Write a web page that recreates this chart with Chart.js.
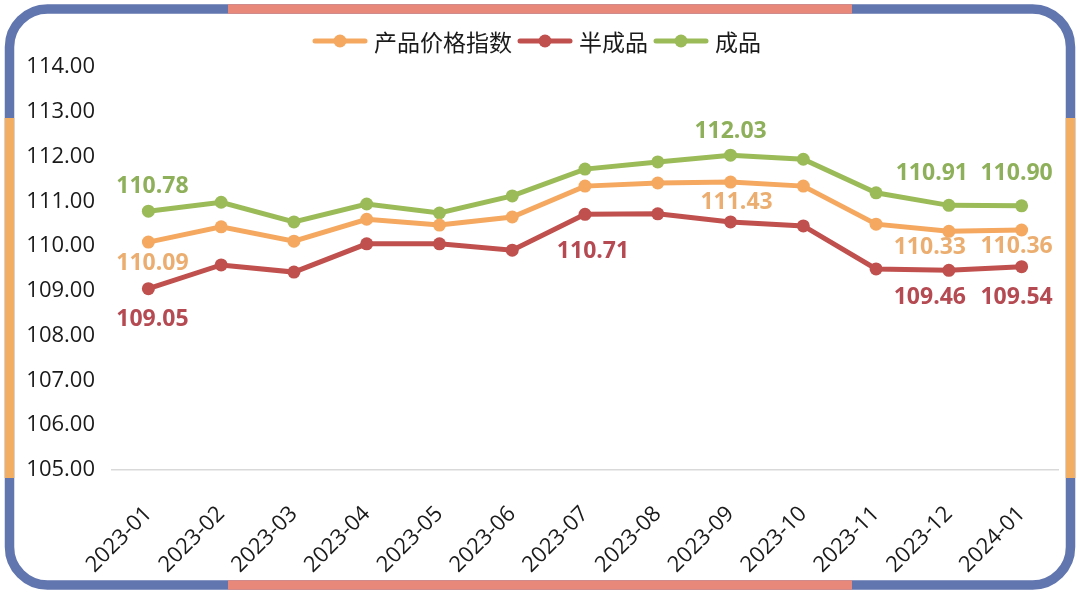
<!DOCTYPE html>
<html>
<head>
<meta charset="utf-8">
<script src="https://cdn.jsdelivr.net/npm/chart.js@4.4.0/dist/chart.umd.min.js"></script>
<style>
html,body{margin:0;padding:0;background:#fff;}
#wrap{position:relative;width:1080px;height:596px;}
canvas{display:block;}
</style>
</head>
<body>
<div id="wrap"><canvas id="c" width="1080" height="596"></canvas></div>
<script>
const categories = ['2023-01','2023-02','2023-03','2023-04','2023-05','2023-06','2023-07','2023-08','2023-09','2023-10','2023-11','2023-12','2024-01'];
const seriesNames = ['产品价格指数','半成品','成品'];
const priceIndex = [110.09,110.43,110.11,110.60,110.47,110.65,111.34,111.41,111.43,111.34,110.49,110.33,110.36];
const semiFinished = [109.05,109.58,109.42,110.05,110.05,109.91,110.71,110.72,110.54,110.45,109.49,109.46,109.54];
const finished = [110.78,110.98,110.54,110.94,110.74,111.12,111.72,111.88,112.03,111.94,111.19,110.91,110.90];
const yTicks = [105,106,107,108,109,110,111,112,113,114];

const lineColors = ['#F5A860','#C0504D','#9BBB59'];
const labelColors = ['#EBAE70','#B54A52','#8FB05A'];
// [datasetIndex, pointIndex, dx, dy]
const labelSpots = [
  [2,0,4,-25],[2,8,0,-24],[2,11,-17,-32],[2,12,-5,-32],
  [0,0,4,21],[0,8,6,20],[0,11,-19,16],[0,12,-5,16],
  [1,0,4,31],[1,6,8,37],[1,11,-19,27],[1,12,-5,31]
];

const FONT = "'Open Sans','Noto Sans CJK SC',sans-serif";

const borderPlugin = {
  id:'frame',
  afterDraw(chart){
    const ctx = chart.ctx;
    const x=9.5,y=9,w=1070.5-9.5,h=585-9,r=38;
    const path = () => { ctx.beginPath(); ctx.roundRect(x,y,w,h,r); };
    ctx.save();
    ctx.lineWidth = 9.5;
    path(); ctx.strokeStyle='#6175AF'; ctx.stroke();
    ctx.save(); ctx.beginPath(); ctx.rect(228,0,624,596); ctx.clip();
    path(); ctx.strokeStyle='#E8887B'; ctx.stroke(); ctx.restore();
    ctx.save(); ctx.beginPath(); ctx.rect(0,118,1080,360); ctx.clip();
    path(); ctx.strokeStyle='#F2AE63'; ctx.stroke(); ctx.restore();
    ctx.restore();
  }
};

const legendPlugin = {
  id:'customLegend',
  afterDraw(chart){
    const ctx = chart.ctx;
    ctx.save();
    ctx.font = "23px 'Noto Sans CJK SC','Open Sans',sans-serif";
    ctx.textBaseline = 'middle';
    const cy = 41;
    const items = seriesNames.map((n,i)=>({n,i,w:ctx.measureText(n).width}));
    const lineW = 54, gap1 = 7, gap2 = 6;
    let total = 0;
    items.forEach(it=>{ total += lineW + gap1 + it.w + gap2; });
    total -= gap2;
    let cx = 537 - total/2;
    items.forEach(it=>{
      ctx.strokeStyle = lineColors[it.i];
      ctx.lineWidth = 5; ctx.lineCap='round';
      ctx.beginPath(); ctx.moveTo(cx+2,cy); ctx.lineTo(cx+lineW-2,cy); ctx.stroke();
      ctx.fillStyle = lineColors[it.i];
      ctx.beginPath(); ctx.arc(cx+lineW/2,cy,6.5,0,Math.PI*2); ctx.fill();
      ctx.fillStyle = '#1a1a1a';
      ctx.textAlign='left';
      ctx.fillText(it.n, cx+lineW+gap1, cy+1);
      cx += lineW + gap1 + it.w + gap2;
    });
    ctx.restore();
  }
};

const labelPlugin = {
  id:'valueLabels',
  afterDatasetsDraw(chart){
    const ctx = chart.ctx;
    ctx.save();
    ctx.font = "bold 23px " + FONT;
    ctx.textAlign='center'; ctx.textBaseline='middle';
    labelSpots.forEach(([d,p,dx,dy])=>{
      const el = chart.getDatasetMeta(d).data[p];
      const v = chart.data.datasets[d].data[p];
      ctx.fillStyle = labelColors[d];
      ctx.fillText(v.toFixed(2), el.x+dx, el.y+dy);
    });
    ctx.restore();
  }
};

const dataSeries = [priceIndex, semiFinished, finished];
new Chart(document.getElementById('c'), {
  type:'line',
  data:{
    labels:categories,
    datasets: dataSeries.map((arr,i)=>({
      label:seriesNames[i],
      data:arr,
      borderColor:lineColors[i],
      backgroundColor:lineColors[i],
      pointBackgroundColor:lineColors[i],
      pointBorderColor:lineColors[i],
      borderWidth:5,
      pointRadius:6.5,
      pointBorderWidth:0,
      tension:0,
      fill:false
    }))
  },
  options:{
    responsive:false,
    animation:false,
    events:[],
    layout:{padding:{left:14,right:22,top:67,bottom:0}},
    plugins:{legend:{display:false},tooltip:{enabled:false}},
    scales:{
      x:{
        offset:true,
        grid:{display:false,drawTicks:false},
        border:{display:true,color:'#d9d9d9',width:1.5},
        ticks:{color:'#1a1a1a',font:{family:FONT,size:22},maxRotation:45,minRotation:45,padding:31,autoSkip:false},
        afterFit(s){ s.height = 126; }
      },
      y:{
        min:105,max:114,
        afterBuildTicks(s){ s.ticks = yTicks.map(v=>({value:v})); },
        grid:{display:false,drawTicks:false},
        border:{display:false},
        ticks:{color:'#1a1a1a',font:{family:FONT,size:22},padding:17,callback:v=>Number(v).toFixed(2)},
        afterFit(s){ s.width = 98; }
      }
    }
  },
  plugins:[labelPlugin,legendPlugin,borderPlugin]
});
</script>
</body>
</html>
